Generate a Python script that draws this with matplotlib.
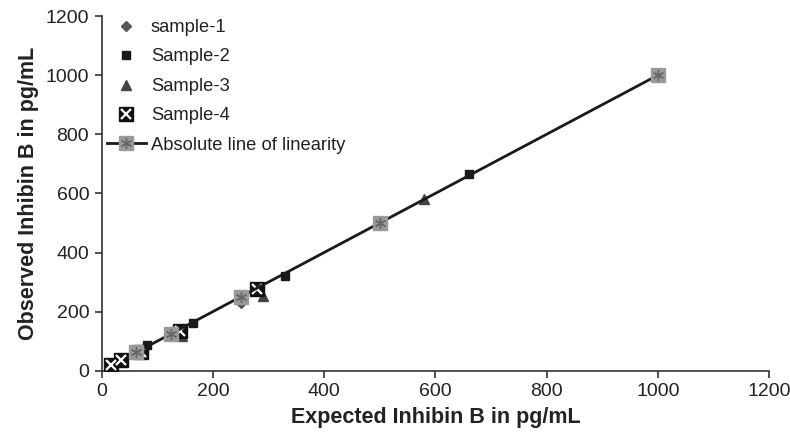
import matplotlib
matplotlib.use('Agg')
import matplotlib.pyplot as plt
from matplotlib.legend_handler import HandlerTuple
from matplotlib.lines import Line2D

plt.rcParams['font.family'] = ['Liberation Sans', 'DejaVu Sans']

s1_exp = [62.5, 125, 250]
s1_obs = [60, 120, 228]
s2_exp = [82, 165, 330, 660]
s2_obs = [88, 160, 322, 665]
s3_exp = [145, 290, 580]
s3_obs = [116, 252, 580]
s4_exp = [17.5, 35, 70, 140, 280]
s4_obs = [18, 36, 62, 135, 278]
abs_vals = [62.5, 125, 250, 500, 1000]

ticks = [0, 200, 400, 600, 800, 1000, 1200]

fig = plt.figure(figsize=(7.9, 4.36), dpi=100)
ax = fig.add_axes([0.1287, 0.1498, 0.8447, 0.8132])

ax.plot(s1_exp, s1_obs, linestyle='none', marker='D', color='#555555', markersize=5, zorder=3)
ax.plot(s2_exp, s2_obs, linestyle='none', marker='s', color='#1a1a1a', markersize=6, zorder=3)
ax.plot(s3_exp, s3_obs, linestyle='none', marker='^', color='#444444', markersize=6.5, zorder=3)
ax.plot(s4_exp, s4_obs, linestyle='none', marker='s', color='#111111', markersize=10, zorder=4)
ax.plot(s4_exp, s4_obs, linestyle='none', marker='x', color='white', markersize=7, markeredgewidth=1.6, zorder=5)
ax.plot(abs_vals, abs_vals, linestyle='-', color='#1a1a1a', linewidth=2.0, marker='s',
        markersize=10, markerfacecolor='#9a9a9a', markeredgecolor='#9a9a9a', zorder=6)
ax.plot(abs_vals, abs_vals, linestyle='none', marker=(6, 2, 0), color='#666666',
        markersize=8, markeredgewidth=1.0, zorder=7)

ax.set_xlim(0, 1200)
ax.set_ylim(0, 1200)
ax.set_xticks(ticks)
ax.set_yticks(ticks)
ax.tick_params(direction='out', length=5, width=1.2, labelsize=14, pad=4, color='#333333', labelcolor='#222222')
for side in ['top', 'right']:
  ax.spines[side].set_visible(False)
for side in ['left', 'bottom']:
  ax.spines[side].set_linewidth(1.2)
  ax.spines[side].set_color('#333333')

ax.set_xlabel('Expected Inhibin B in pg/mL', fontsize=15.5, fontweight='bold', color='#222222', labelpad=5)
ax.set_ylabel('Observed Inhibin B in pg/mL', fontsize=15.5, fontweight='bold', color='#222222', labelpad=5)

# legend handles
h1 = Line2D([], [], linestyle='none', marker='D', color='#555555', markersize=5)
h2 = Line2D([], [], linestyle='none', marker='s', color='#1a1a1a', markersize=6)
h3 = Line2D([], [], linestyle='none', marker='^', color='#444444', markersize=6.5)
h4a = Line2D([], [], linestyle='none', marker='s', color='#111111', markersize=10)
h4b = Line2D([], [], linestyle='none', marker='x', color='white', markersize=7, markeredgewidth=1.6)
h5a = Line2D([], [], linestyle='-', color='#1a1a1a', linewidth=2.0, marker='s', markersize=10,
             markerfacecolor='#9a9a9a', markeredgecolor='#9a9a9a')
h5b = Line2D([], [], linestyle='none', marker=(6, 2, 0), color='#666666', markersize=8, markeredgewidth=1.0)

leg = ax.legend([h1, h2, h3, (h4a, h4b), (h5a, h5b)],
                ['sample-1', 'Sample-2', 'Sample-3', 'Sample-4', 'Absolute line of linearity'],
                handler_map={tuple: HandlerTuple(ndivide=1)},
                loc='upper left', bbox_to_anchor=(107/790, 1-19/436), bbox_transform=fig.transFigure,
                frameon=False, fontsize=13.2, handlelength=2.1, handletextpad=0.3,
                labelspacing=0.68, borderpad=0, borderaxespad=0)
for t in leg.get_texts():
  t.set_color('#222222')

fig.savefig('out.png', dpi=100)
